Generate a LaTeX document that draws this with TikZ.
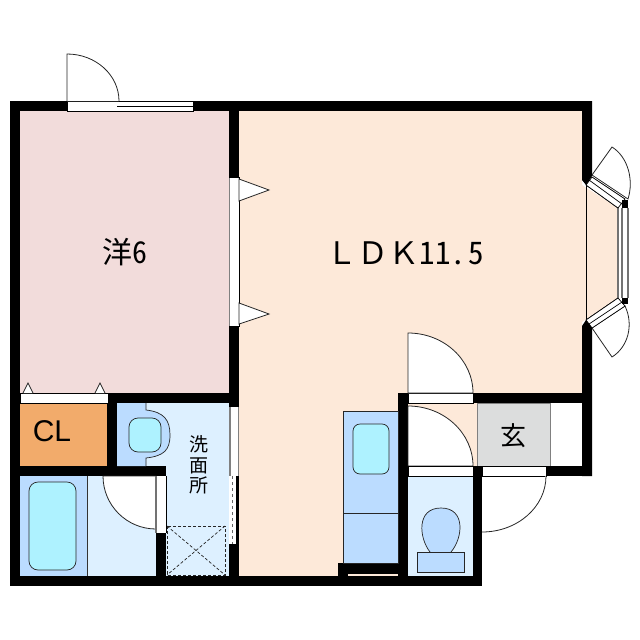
\documentclass[tikz,border=0pt]{standalone}
\usepackage{fontspec}
\setmainfont{Liberation Sans}
\newfontfamily\jpfont{Noto Sans CJK JP}
\newfontfamily\jpdigit[RawFeature=+hwid]{Noto Sans CJK JP}
\usetikzlibrary{positioning, calc}
\definecolor{roomwest}{HTML}{F2DCDB}
\definecolor{roomldk}{HTML}{FDE9D9}
\definecolor{roomcl}{HTML}{F2AB6B}
\definecolor{roomwet}{HTML}{DDF0FF}
\definecolor{fixture}{HTML}{BBDCFF}
\definecolor{basin}{HTML}{AEF2FF}
\definecolor{genkan}{HTML}{DCDDDD}
\tikzset{
    wall/.style={fill=black},
    opening/.style={draw=black, line width=0.7pt, fill=white},
    swing/.style={draw=black!85, line width=0.8pt, fill=white},
    fixt/.style={draw=black!85, line width=0.7pt, fill=fixture},
    tub/.style={draw=black!85, line width=0.7pt, fill=basin, rounded corners=6pt},
    rail/.style={draw=black!55, line width=1.2pt},
    roomlabel/.style={font=\jpfont, inner sep=0pt}
}
\begin{document}
\begin{tikzpicture}[x=1pt, y=-1pt]
\useasboundingbox (0,0) rectangle (640,640);

% room floors
\fill[roomwest] (20,111) rectangle (229,393);
\fill[roomldk] (239,111) -- (582,111) -- (582,185) -- (618,208) -- (618,298) -- (582,322)
    -- (582,393) -- (408,393) -- (408,576) -- (239,576) -- cycle;
\fill[roomcl] (20,403) rectangle (107,466);
\fill[roomwet] (117,403) rectangle (229,576);
\fill[roomwet] (20,476) rectangle (156,576);
\fill[roomldk] (408,403) rectangle (477,466);
\fill[roomwet] (408,476) rectangle (473,576);
\draw[fill=genkan, draw=black!50, line width=0.8pt] (477,403) rectangle (550,466);

% bay window
\draw[line width=0.7pt] (586.5,183) -- (586.5,322);
\draw[line width=0.7pt] (586,185) -- (618,208) -- (618,298) -- (586,320);
\fill[white] (618,208) rectangle (628,298);
\draw[rail] (618,208) -- (618,298) (622,208) -- (622,298) (628,208) -- (628,298);
\draw[swing] (592,175) -- (612,147) .. controls (628,157) and (634,180) .. (628,199) -- cycle;
\draw[swing] (592,328) -- (612,357) .. controls (628,347) and (634,325) .. (625,306) -- cycle;
\draw[opening] (592,177) -- (586,185) -- (618,208) -- (625,199) -- cycle;
\draw[opening] (592,328) -- (586,320) -- (618,298) -- (625,306) -- cycle;
\draw[line width=0.7pt] (589,180) -- (622,204) (589,324) -- (622,302);
\fill[wall] (622,200) rectangle (628,208);
\fill[wall] (622,298) rectangle (628,304);

% walls
\fill[wall] (10,101) rectangle (592,111);
\fill[wall] (10,101) rectangle (20,586);
\fill[wall] (10,576) rectangle (482,586);
\fill[wall] (229,101) rectangle (239,177);
\fill[wall] (229,326) rectangle (239,407);
\fill[wall] (229,544) rectangle (239,586);
\fill[wall] (108,393) rectangle (239,403);
\fill[wall] (107,393) rectangle (117,476);
\fill[wall] (10,466) rectangle (166,476);
\fill[wall] (156,533) rectangle (166,586);
\fill[wall] (582,101) -- (592,101) -- (592,176) -- (586,185) -- (582,180) -- cycle;
\fill[wall] (582,326) -- (586,320) -- (592,328) -- (592,476) -- (582,476) -- cycle;
\fill[wall] (398,393) rectangle (408,586);
\fill[wall] (473,393) rectangle (592,403);
\fill[wall] (473,466) rectangle (482,586);
\fill[wall] (546,466) rectangle (592,476);
\fill[wall] (338,563) rectangle (408,574);
\fill[wall] (338,563) rectangle (348,586);
\fill[roomldk] (348,574) rectangle (398,576);

% top door and sliding window
\draw[opening] (67,101) rectangle (193,111);
\draw[line width=0.7pt] (117,106) -- (193,106);
\draw[swing] (67,101) -- (67,54) arc[start angle=-90, end angle=0, x radius=52, y radius=47];

% window to the western room
\fill[white] (229,177) rectangle (239,326);
\draw[draw=black!50, line width=1.4pt] (229.5,177) -- (229.5,326);
\draw[line width=0.7pt] (229,177) -- (239,177) -- (239,326) -- (229,326);
\draw[swing] (239,179) -- (269,190) -- (239,201) -- cycle;
\draw[swing] (239,303) -- (269,314) -- (239,324) -- cycle;

% closet doors
\draw[opening] (20,393) rectangle (108,403);
\draw[swing] (23,393) -- (28,383) -- (33,393);
\draw[swing] (95,393) -- (100,383) -- (105,393);

% washroom basin
\fill[fixture] (117,403) -- (146,403) -- (146,410) .. controls (164,412) and (170,420) .. (170,435)
    .. controls (170,450) and (164,456) .. (146,458) -- (146,466) -- (117,466) -- cycle;
\draw[draw=black!85, line width=0.7pt] (146,403) -- (146,410) .. controls (164,412) and (170,420) .. (170,435)
    .. controls (170,450) and (164,456) .. (146,458) -- (146,466);
\draw[tub, rounded corners=9pt] (129,418) rectangle (161,452);

% washroom window and drain
\fill[white] (232,407) rectangle (238,544);
\draw[draw=black!50, line width=1.2pt] (230,407) -- (230,476);
\draw[draw=black!50, line width=1pt] (238,407) -- (238,476);
\fill[wall] (236,476) rectangle (239,544);
\draw[draw=black!60, line width=0.9pt, dashed] (232,476) -- (232,544);
\draw[draw=black!85, line width=0.7pt, dash pattern=on 3pt off 2pt] (167,526) rectangle (225,575);
\draw[draw=black!85, line width=0.7pt, dash pattern=on 3pt off 2pt] (167,526) -- (225,575) (225,526) -- (167,575);

% bath
\fill[fixture] (20,476) rectangle (87,576);
\draw[draw=black!80, line width=0.7pt] (87.5,476) -- (87.5,576);
\draw[tub, rounded corners=9pt] (29,482) rectangle (76,570);
\fill[white] (156,476) rectangle (166,533);
\draw[line width=0.7pt] (166,476) -- (166,533);
\draw[swing] (103,476) arc[start angle=180, end angle=90, radius=53] -- (156,476) -- cycle;
\draw[draw=black!55, line width=2pt] (156,476) -- (156,533);

% kitchen
\draw[fixt] (343,411) rectangle (398,563);
\draw[draw=black!85, line width=0.7pt] (343,513) -- (398,513);
\draw[tub, rounded corners=7pt] (353,424) rectangle (389,474);

% inner doors
\draw[opening] (408,393) rectangle (473,403);
\draw[swing] (408,393) -- (408,333) arc[start angle=-90, end angle=0, x radius=65, y radius=60] -- cycle;
\draw[swing] (408,466) -- (408,406) arc[start angle=-90, end angle=0, x radius=65, y radius=60] -- cycle;
\draw[opening] (408,466) rectangle (473,476);

% entrance door
\draw[opening] (482,466) rectangle (546,476);
\draw[swing] (482,532) arc[start angle=90, end angle=0, x radius=64, y radius=56];
\fill[wall] (473,476) rectangle (482,586);

% toilet
\draw[fixt] (430,552) .. controls (419,538) and (416,508) .. (441,508)
    .. controls (466,508) and (463,538) .. (451,552);
\draw[fixt] (417,552) rectangle (464,572);

% labels
\node[roomlabel, font=\jpfont\fontsize{30}{30}\selectfont] (west) at (125,252) {洋{\jpdigit 6}};
\node[roomlabel, font=\jpfont\fontsize{31}{31}\selectfont] (ldk) at (405,253) {ＬＤＫ{\jpdigit\hspace{1pt}11.\hspace{2pt}5}};
\node[roomlabel, font=\fontsize{30}{30}\selectfont] (cl) at (52,431) {CL};
\node[roomlabel, font=\jpfont\fontsize{19}{20.5}\selectfont, align=center] (wash) at (199,465) {洗\\面\\所};
\node[roomlabel, font=\jpfont\fontsize{26}{26}\selectfont] (entry) at (513,436) {玄};
\end{tikzpicture}
\end{document}
